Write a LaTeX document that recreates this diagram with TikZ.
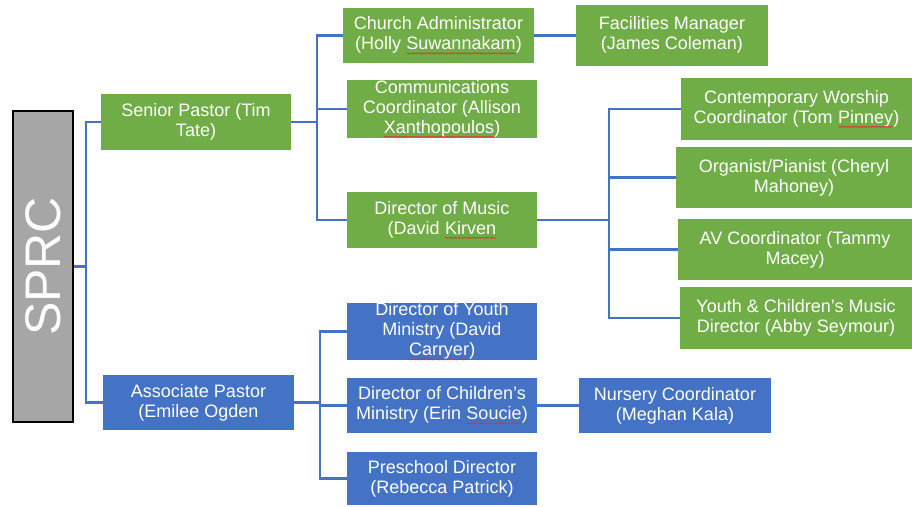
\documentclass[tikz,border=0pt]{standalone}
\usepackage{fontspec}
\setmainfont{Liberation Sans}
\usepackage{graphicx}
\usepackage{xcolor}
\usetikzlibrary{decorations.pathmorphing}
\definecolor{chartgreen}{HTML}{70AD47}
\definecolor{chartblue}{HTML}{4472C4}
\definecolor{chartgray}{HTML}{A6A6A6}
\definecolor{spellred}{HTML}{E03030}
\newcommand{\spellmark}[1]{\tikz[baseline=(w.base)]{\node[inner sep=0pt, outer sep=0pt, minimum width=0pt, minimum height=0pt, fill=none, draw=none] (w) {#1};
	\draw[spellred, line width=0.6pt, decorate, decoration={snake, amplitude=0.6pt, segment length=2.4pt}]
	([yshift=-3.5pt]w.base west) -- ([yshift=-3.5pt]w.base east);}}
\tikzset{%
	role/.style={
		rectangle,
		inner sep=0pt,
		text=white,
		align=center,
		font=\fontsize{18}{20}\selectfont
	},
	green role/.style={role, fill=chartgreen},
	blue role/.style={role, fill=chartblue},
	link/.style={draw=chartblue, line width=2.3pt},
}

\begin{document}
\begin{tikzpicture}[x=1pt, y=-1pt]
	\useasboundingbox (0,0) rectangle (912,506);
	
	% Committee
	\node[draw=black, line width=2.5pt, fill=chartgray, minimum width=60, minimum height=311, inner sep=0pt, text=white] (sprc) at (43,266.5) {\fontsize{50}{50}\selectfont\rotatebox{90}{SPRC}};
	
	% Pastors
	\node[green role, minimum width=190, minimum height=56] (sp) at (196,122) {Senior Pastor (Tim\\Tate)};
	\node[blue role, minimum width=191, minimum height=55] (ap) at (198.5,402.5) {Associate Pastor\\(Emilee Ogden};
	
	% Senior pastor staff
	\node[green role, minimum width=191, minimum height=55] (ca) at (438.5,35.5) {Church Administrator\\(Holly \spellmark{Suwannakam})};
	\node[green role, minimum width=192, minimum height=61] (fm) at (672,35) {Facilities Manager\\(James Coleman)};
	\node[green role, minimum width=190, minimum height=56] (cc) at (442,109) {Communications\\Coordinator (Allison\\\spellmark{Xanthopoulos})};
	\node[green role, minimum width=190, minimum height=56] (dm) at (442,220) {Director of Music\\(David \spellmark{Kirven}};
	
	% Music staff
	\node[green role, minimum width=231, minimum height=62] (cw) at (796.5,109) {Contemporary Worship\\Coordinator (Tom \spellmark{Pinney})};
	\node[green role, minimum width=236, minimum height=61] (op) at (794,177.5) {Organist/Pianist (Cheryl\\Mahoney)};
	\node[green role, minimum width=234, minimum height=61] (av) at (795,249.5) {AV Coordinator (Tammy\\Macey)};
	\node[green role, minimum width=232, minimum height=62] (yc) at (796,318) {Youth \& Children’s Music\\Director (Abby Seymour)};
	
	% Associate pastor staff
	\node[blue role, minimum width=190, minimum height=55] (ym) at (442,331.5) {Director of Youth\\Ministry (David\\\spellmark{Carryer})};
	\node[blue role, minimum width=190, minimum height=55] (chm) at (442,405.5) {Director of Children’s\\Ministry (Erin \spellmark{Soucie})};
	\node[blue role, minimum width=190, minimum height=53] (ps) at (442,478.5) {Preschool Director\\(Rebecca Patrick)};
	\node[blue role, minimum width=192, minimum height=55] (nc) at (675,405.5) {Nursery Coordinator\\(Meghan Kala)};
	
	% Connectors
	\draw[link] (sprc.east) -- ++(12,0) coordinate (topbus) |- (sp.west);
	\draw[link] (topbus) |- (ap.west);
	
	\draw[link] (sp.east) -- ++(26,0) coordinate (spbus) |- (ca.west);
	\draw[link] (spbus) |- (cc.west);
	\draw[link] (spbus) |- (dm.west);
	\draw[link] (ca.east) -- (ca.east -| fm.west);
	
	\draw[link] (dm.east) -- ++(72,0) coordinate (dmbus) |- (cw.west);
	\draw[link] (dmbus) |- (op.west);
	\draw[link] (dmbus) |- (av.west);
	\draw[link] (dmbus) |- (yc.west);
	
	\draw[link] (ap.east) -- ++(26,0) coordinate (apbus) |- (ym.west);
	\draw[link] (apbus) |- (chm.west);
	\draw[link] (apbus) |- (ps.west);
	\draw[link] (chm.east) -- (nc.west);
	
\end{tikzpicture}
\end{document}
